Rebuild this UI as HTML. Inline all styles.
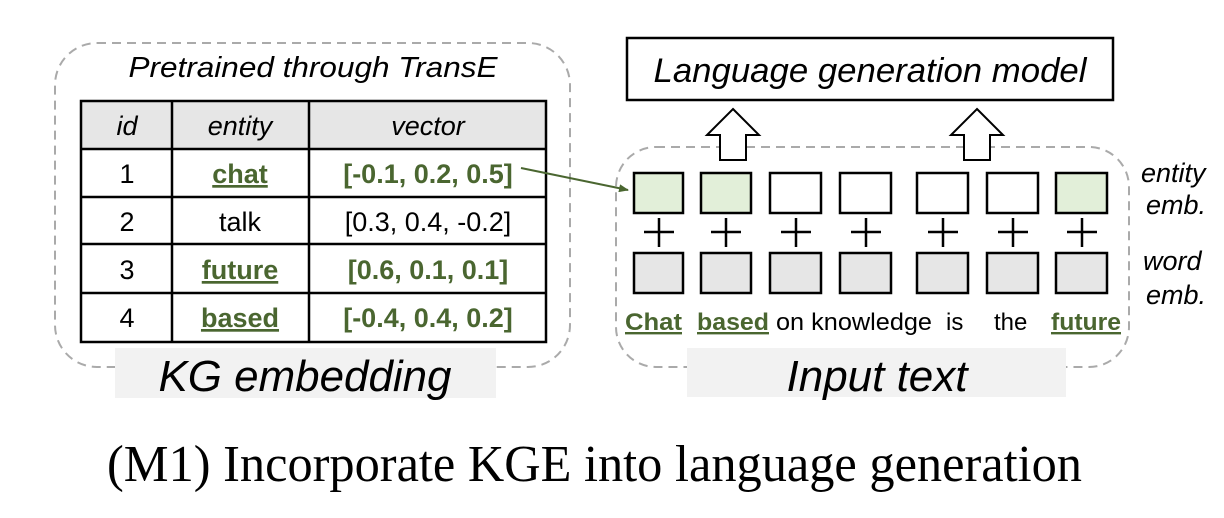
<!DOCTYPE html>
<html><head><meta charset="utf-8"><style>
html,body{margin:0;padding:0;background:#fff;}
svg{display:block;}
.s{font-family:"Liberation Sans",Arial,sans-serif;}
.g{fill:#4a6630;font-weight:bold;}
</style></head><body>
<svg width="1224" height="518" viewBox="0 0 1224 518" xmlns="http://www.w3.org/2000/svg">
<defs><marker id="ah" markerWidth="10" markerHeight="8" refX="9" refY="4" orient="auto" markerUnits="userSpaceOnUse"><path d="M0,0 L10,4 L0,8 Z" fill="#4a6630"/></marker></defs>
<rect x="55" y="43" width="515" height="324" rx="42" fill="none" stroke="#aaa" stroke-width="2" stroke-dasharray="9,6"/>
<rect x="115" y="348" width="381" height="50" fill="#f2f2f2"/>
<text class="s" x="305" y="391" text-anchor="middle" font-size="44" font-style="italic" textLength="293" lengthAdjust="spacingAndGlyphs">KG embedding</text>
<text class="s" x="313" y="77" text-anchor="middle" font-size="29" font-style="italic" textLength="369" lengthAdjust="spacingAndGlyphs">Pretrained through TransE</text>
<rect x="81" y="101" width="465" height="48" fill="#e6e6e6"/>
<rect x="81" y="149" width="465" height="193" fill="#fff"/>
<g stroke="#000" stroke-width="2.5" fill="none">
<rect x="81" y="101" width="465" height="241"/>
<line x1="172" y1="101" x2="172" y2="342"/><line x1="309" y1="101" x2="309" y2="342"/>
<line x1="81" y1="149" x2="546" y2="149"/><line x1="81" y1="197" x2="546" y2="197"/>
<line x1="81" y1="244" x2="546" y2="244"/><line x1="81" y1="293" x2="546" y2="293"/>
</g>
<g class="s" font-size="27" text-anchor="middle">
<text x="127" y="135" font-style="italic">id</text><text x="240" y="135" font-style="italic">entity</text><text x="428" y="135" font-style="italic">vector</text>
<text x="127" y="183">1</text><text x="127" y="231">2</text><text x="127" y="279">3</text><text x="127" y="327">4</text>
<text x="240" y="183" class="g" text-decoration="underline">chat</text>
<text x="240" y="231">talk</text>
<text x="240" y="279" class="g" text-decoration="underline">future</text>
<text x="240" y="327" class="g" text-decoration="underline">based</text>
<text x="428" y="183" class="g">[-0.1, 0.2, 0.5]</text>
<text x="428" y="231">[0.3, 0.4, -0.2]</text>
<text x="428" y="279" class="g">[0.6, 0.1, 0.1]</text>
<text x="428" y="327" class="g">[-0.4, 0.4, 0.2]</text>
</g>
<line x1="521" y1="168" x2="628" y2="190" stroke="#4a6630" stroke-width="2" marker-end="url(#ah)"/>
<rect x="627" y="38" width="486" height="62" fill="#fff" stroke="#000" stroke-width="2.5"/>
<text class="s" x="870" y="82" text-anchor="middle" font-size="34" font-style="italic" textLength="433" lengthAdjust="spacingAndGlyphs">Language generation model</text>
<rect x="616" y="147" width="513" height="220" rx="40" fill="none" stroke="#aaa" stroke-width="2" stroke-dasharray="9,6"/>
<rect x="687" y="348" width="379" height="49" fill="#f2f2f2"/>
<text class="s" x="877" y="391" text-anchor="middle" font-size="44" font-style="italic" textLength="181" lengthAdjust="spacingAndGlyphs">Input text</text>
<g fill="#fff" stroke="#000" stroke-width="2">
<path d="M733,109 L759,135 L746,135 L746,160 L720,160 L720,135 L707,135 Z"/>
<path d="M977,109 L1003,135 L990,135 L990,160 L964,160 L964,135 L951,135 Z"/>
</g>
<g stroke="#000" stroke-width="2.5">
<rect x="634" y="173" width="49" height="40" fill="#e2efd9"/>
<rect x="701" y="173" width="50" height="40" fill="#e2efd9"/>
<rect x="770" y="173" width="51" height="40" fill="#fff"/>
<rect x="840" y="173" width="51" height="40" fill="#fff"/>
<rect x="917" y="173" width="51" height="40" fill="#fff"/>
<rect x="987" y="173" width="51" height="40" fill="#fff"/>
<rect x="1056" y="173" width="51" height="40" fill="#e2efd9"/>
<rect x="634" y="253" width="49" height="40" fill="#e6e6e6"/>
<rect x="701" y="253" width="50" height="40" fill="#e6e6e6"/>
<rect x="770" y="253" width="51" height="40" fill="#e6e6e6"/>
<rect x="840" y="253" width="51" height="40" fill="#e6e6e6"/>
<rect x="917" y="253" width="51" height="40" fill="#e6e6e6"/>
<rect x="987" y="253" width="51" height="40" fill="#e6e6e6"/>
<rect x="1056" y="253" width="51" height="40" fill="#e6e6e6"/>
</g>
<g stroke="#000" stroke-width="2.5">
<path d="M644,232h30M659,218v29"/><path d="M711,232h30M726,218v29"/><path d="M781,232h30M796,218v29"/><path d="M851,232h30M866,218v29"/><path d="M928,232h30M943,218v29"/><path d="M998,232h30M1013,218v29"/><path d="M1067,232h30M1082,218v29"/>
</g>
<g class="s" font-size="24">
<text x="625" y="330" class="g" text-decoration="underline" textLength="57" lengthAdjust="spacingAndGlyphs">Chat</text>
<text x="697" y="330" class="g" text-decoration="underline" textLength="72" lengthAdjust="spacingAndGlyphs">based</text>
<text x="776" y="330" textLength="156" lengthAdjust="spacingAndGlyphs">on knowledge</text>
<text x="946" y="330">is</text>
<text x="994" y="330">the</text>
<text x="1051" y="330" class="g" text-decoration="underline" textLength="70" lengthAdjust="spacingAndGlyphs">future</text>
</g>
<g class="s" font-size="27" font-style="italic">
<text x="1141" y="182">entity</text><text x="1146" y="214">emb.</text>
<text x="1143" y="270">word</text><text x="1146" y="304">emb.</text>
</g>
<text x="107" y="481" font-family="'Liberation Serif','Times New Roman',serif" font-size="52" textLength="975" lengthAdjust="spacingAndGlyphs">(M1) Incorporate KGE into language generation</text>
</svg>
</body></html>
